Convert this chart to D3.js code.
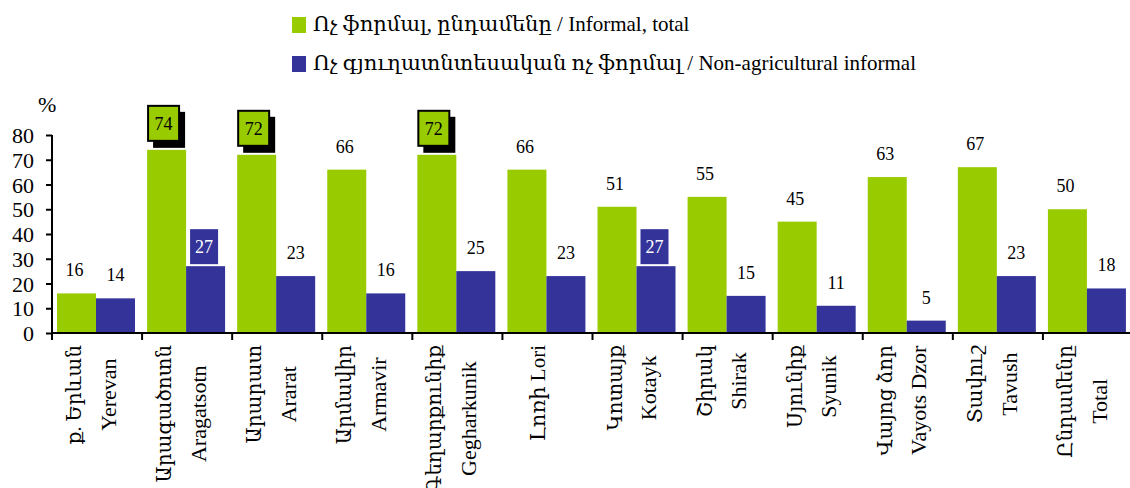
<!DOCTYPE html>
<html>
<head>
<meta charset="utf-8">
<script src="https://cdn.jsdelivr.net/npm/d3@7"></script>
<style>
  body { margin: 0; background: #fff; }
  svg text { font-family: "Liberation Serif", "DejaVu Serif", serif; fill: #000; }
</style>
</head>
<body>
<div class="chart"></div>
<script>
// regions, Armenian and English names
var regionsHy = ["ք. Երևան", "Արագածոտն", "Արարատ", "Արմավիր", "Գեղարքունիք", "Լոռի", "Կոտայք", "Շիրակ", "Սյունիք", "Վայոց ձոր", "Տավուշ", "Ընդամենը"];
var regionsEn = ["Yerevan", "Aragatsotn", "Ararat", "Armavir", "Gegharkunik", "Lori", "Kotayk", "Shirak", "Syunik", "Vayots Dzor", "Tavush", "Total"];
// percent
var informalTotal = [16, 74, 72, 66, 72, 66, 51, 55, 45, 63, 67, 50];
var nonAgriInformal = [14, 27, 23, 16, 25, 23, 27, 15, 11, 5, 23, 18];
// labels drawn in boxes
var boxedTotal = ["Aragatsotn", "Ararat", "Gegharkunik"];
var boxedNonAgri = ["Aragatsotn", "Kotayk"];
var seriesNames = ["Ոչ ֆորմալ, ընդամենը  / Informal, total", "Ոչ գյուղատնտեսական ոչ ֆորմալ / Non-agricultural informal"];
var yTicks = [0, 10, 20, 30, 40, 50, 60, 70, 80];

var colors = ["#99cc00", "#333399"];

var svg = d3.select('.chart')
	.append('svg')
	.attr('width', 1130)
	.attr('height', 488);

var x0 = d3.scaleBand()
	.domain(regionsEn)
	.range([52, 1133]);

var x1 = d3.scaleBand()
	.domain(["total", "nonagri"])
	.range([5, 83]);

var y = d3.scaleLinear()
	.domain([0, 80])
	.range([333, 135]);

// legend
var legend = svg.selectAll('.legend')
	.data(seriesNames)
	.enter()
	.append('g')
	.attr('transform', function (d, i) { return 'translate(292,' + (17 + i * 39) + ')'; });
legend.append('rect')
	.attr('width', 14)
	.attr('height', 16)
	.style('fill', function (d, i) { return colors[i]; });
legend.append('text')
	.attr('x', 21)
	.attr('y', 14)
	.style('font-size', '21px')
	.text(function (d) { return d; });

// bars
var groups = svg.selectAll('.grp')
	.data(regionsEn)
	.enter()
	.append('g')
	.attr('transform', function (d) { return 'translate(' + x0(d) + ',0)'; });

groups.append('rect')
	.attr('x', x1('total'))
	.attr('width', x1.bandwidth())
	.attr('y', function (d, i) { return y(informalTotal[i]); })
	.attr('height', function (d, i) { return y(0) - y(informalTotal[i]); })
	.style('fill', colors[0]);

groups.append('rect')
	.attr('x', x1('nonagri'))
	.attr('width', x1.bandwidth())
	.attr('y', function (d, i) { return y(nonAgriInformal[i]); })
	.attr('height', function (d, i) { return y(0) - y(nonAgriInformal[i]); })
	.style('fill', colors[1]);

// value labels
groups.each(function (d, i) {
	var g = d3.select(this);
	var gx = x1('total'), bx = x1('nonagri');
	var gTop = y(informalTotal[i]), bTop = y(nonAgriInformal[i]);

	if (boxedTotal.indexOf(d) >= 0) {
		g.append('rect')
			.attr('x', gx + 6).attr('y', gTop - 38)
			.attr('width', 32).attr('height', 36)
			.style('fill', '#000');
		g.append('rect')
			.attr('x', gx + 1).attr('y', gTop - 44)
			.attr('width', 31).attr('height', 35)
			.style('fill', colors[0])
			.style('stroke', '#000')
			.style('stroke-width', 2);
		g.append('text')
			.attr('x', gx + 16.5).attr('y', gTop - 20)
			.style('text-anchor', 'middle')
			.style('font-size', '18px')
			.text(informalTotal[i]);
	} else {
		g.append('text')
			.attr('x', gx + x1.bandwidth() / 2 - 2).attr('y', gTop - 17)
			.style('text-anchor', 'middle')
			.style('font-size', '18px')
			.text(informalTotal[i]);
	}

	if (boxedNonAgri.indexOf(d) >= 0) {
		g.append('rect')
			.attr('x', bx + 4).attr('y', bTop - 37)
			.attr('width', 28).attr('height', 35)
			.style('fill', colors[1]);
		g.append('text')
			.attr('x', bx + 18).attr('y', bTop - 13)
			.style('text-anchor', 'middle')
			.style('font-size', '18px')
			.style('fill', '#fff')
			.text(nonAgriInformal[i]);
	} else {
		g.append('text')
			.attr('x', bx + x1.bandwidth() / 2).attr('y', bTop - 17)
			.style('text-anchor', 'middle')
			.style('font-size', '18px')
			.text(nonAgriInformal[i]);
	}
});

// y axis
var yAxis = svg.append('g')
	.attr('transform', 'translate(52,0)')
	.call(d3.axisLeft(y).tickValues(yTicks).tickSize(6).tickPadding(12));
yAxis.select('.domain').attr('d', 'M0,' + y(80) + 'V' + (y(0) + 7)).style('stroke', '#000').style('stroke-width', 2);
yAxis.selectAll('.tick line').style('stroke', '#000').style('stroke-width', 2);
yAxis.selectAll('.tick text')
	.style('font-size', '22px')
	.style('font-family', '"Liberation Serif", serif')
	.attr('dy', '0.35em');

svg.append('text')
	.attr('x', 38).attr('y', 112)
	.style('font-size', '22px')
	.text('%');

// x axis
var xAxis = svg.append('g')
	.attr('transform', 'translate(0,' + y(0) + ')')
	.call(d3.axisBottom(x0).tickSize(0).tickFormat(''));
xAxis.select('.domain').attr('d', 'M52,0H1130').style('stroke', '#000').style('stroke-width', 2);
xAxis.selectAll('.bound')
	.data(regionsEn)
	.enter()
	.append('line')
	.attr('x1', function (d) { return x0(d); })
	.attr('x2', function (d) { return x0(d); })
	.attr('y1', 0).attr('y2', 7)
	.style('stroke', '#000')
	.style('stroke-width', 2);

// category labels, rotated
groups.each(function (d, i) {
	var g = d3.select(this);
	var c = x0.bandwidth() / 2;
	var lines = d === 'Lori'
		? [{t: regionsHy[i] + ' ' + d, dx: -10, size: 21}]
		: [{t: regionsHy[i], dx: -23, size: 20}, {t: d, dx: 11, size: 22}];
	var texts = lines.map(function (l) {
		return g.append('text')
			.attr('dy', '0.35em')
			.style('font-size', l.size + 'px')
			.style('text-anchor', 'middle')
			.text(l.t);
	});
	var maxLen = d3.max(texts, function (t) { return t.node().getComputedTextLength(); });
	texts.forEach(function (t, k) {
		t.attr('transform', 'translate(' + (c + lines[k].dx) + ',' + (345 + maxLen / 2) + ') rotate(-90)');
	});
});
</script>
</body>
</html>
